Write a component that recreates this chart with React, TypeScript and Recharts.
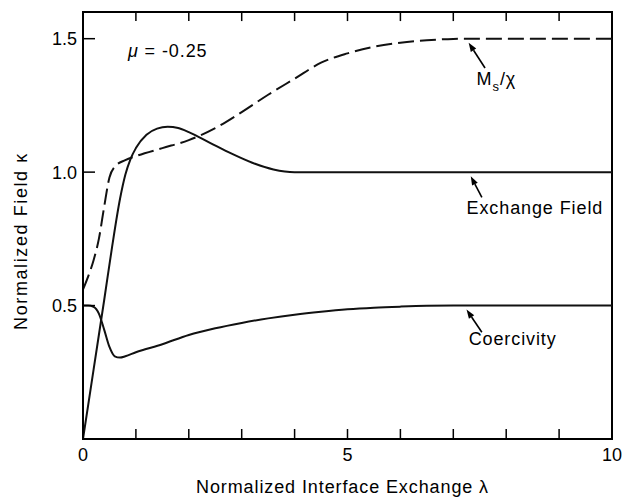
import React from 'react';
import { LineChart, Line, XAxis, YAxis, ReferenceLine, ReferenceDot, ReferenceArea } from 'recharts';

// λ samples and values
const msX = [0, 0.1, 0.2, 0.3, 0.4, 0.5, 0.6, 0.8, 1.0, 1.5, 2.0, 2.5, 3.0, 3.5, 4.0, 4.5, 5.0, 5.5, 6.0, 6.5, 7.0, 7.5, 10];
const msY = [0.56, 0.61, 0.67, 0.75, 0.87, 0.98, 1.02, 1.045, 1.06, 1.09, 1.12, 1.165, 1.225, 1.29, 1.35, 1.41, 1.445, 1.47, 1.485, 1.494, 1.499, 1.5, 1.5];

const exX = [0, 0.2, 0.4, 0.55, 0.7, 0.8, 0.9, 1.0, 1.2, 1.4, 1.6, 1.8, 2.0, 2.4, 2.8, 3.2, 3.6, 4.0, 10];
const exY = [0, 0.26, 0.52, 0.72, 0.9, 0.99, 1.05, 1.09, 1.14, 1.163, 1.17, 1.165, 1.15, 1.11, 1.07, 1.035, 1.01, 1.0, 1.0];

const coX = [0, 0.1, 0.2, 0.3, 0.4, 0.5, 0.6, 0.7, 0.8, 1.0, 1.5, 2.0, 2.5, 3.0, 3.5, 4.0, 4.5, 5.0, 5.5, 6.0, 6.5, 7.0, 10];
const coY = [0.5, 0.5, 0.495, 0.47, 0.41, 0.345, 0.31, 0.305, 0.31, 0.325, 0.355, 0.39, 0.415, 0.435, 0.452, 0.466, 0.477, 0.486, 0.492, 0.496, 0.499, 0.5, 0.5];

const xTicks = [0, 1, 2, 3, 4, 5, 6, 7, 8, 9, 10];
const topTicks = [1, 2, 3, 4, 5, 6, 7, 8, 9];
const xLabelTicks = [0, 5, 10];
const yTicks = [0.5, 1.0, 1.5];
const xDomain = [0, 10];
const yDomain = [0, 1.6];

const xTitle = 'Normalized Interface Exchange λ';
const yTitle = 'Normalized Field κ';

// annotations: [tipX, tipY, tailX, tailY]
const arrows = [
  [7.29, 1.485, 7.6, 1.39],
  [7.33, 0.985, 7.54, 0.905],
  [7.25, 0.485, 7.54, 0.4],
];
const labelPos = {
  ms: [7.44, 1.326],
  ex: [7.25, 0.843],
  co: [7.29, 0.353],
  mu: [0.85, 1.431],
};

const zip = (xs: number[], ys: number[]) => xs.map((x, i) => ({ x, y: ys[i] }));
const msData = zip(msX, msY);
const exData = zip(exX, exY);
const coData = zip(coX, coY);

const FONT = '"Liberation Sans", Arial, Helvetica, sans-serif';

const Arrow = (props: any) => {
  const { x1, y1, x2, y2 } = props;
  const dx = x1 - x2;
  const dy = y1 - y2;
  const len = Math.hypot(dx, dy) || 1;
  const ux = dx / len;
  const uy = dy / len;
  const hl = 9;
  const hw = 3.2;
  const bx = x1 - ux * hl;
  const by = y1 - uy * hl;
  const px = -uy * hw;
  const py = ux * hw;
  return (
    <g>
      <line x1={x2} y1={y2} x2={bx} y2={by} stroke="#000" strokeWidth={1.6} />
      <polygon points={`${x1},${y1} ${bx + px},${by + py} ${bx - px},${by - py}`} fill="#000" />
    </g>
  );
};

// frame drawn from the plot rectangle that ReferenceArea receives
const Frame = (props: any) => {
  const { x, y, width, height } = props;
  return (
    <rect x={x} y={y} width={width} height={height} fill="none" stroke="#000" strokeWidth={2} />
  );
};

// inward tick mark hanging from the top frame line
const TickMark = (props: any) => {
  const { x1, y1, x2, y2 } = props;
  return <line x1={x1} y1={y1} x2={x2} y2={y2} stroke="#000" strokeWidth={1.5} />;
};

const textStyle = { fontFamily: FONT, fontSize: 18, fill: '#000', letterSpacing: 0.9 };

const makeText = (content: React.ReactNode) => (props: any) => (
  <text x={props.cx} y={props.cy} style={textStyle as any}>
    {content}
  </text>
);

export default function App() {
  return (
    <div style={{ position: 'absolute', left: 0, top: 0, background: '#fff' }}>
      <LineChart width={638} height={499} margin={{ top: 12, right: 26, left: 0, bottom: 0 }}>
        <XAxis
          dataKey="x"
          type="number"
          domain={xDomain}
          ticks={xTicks}
          allowDataOverflow
          height={60}
          stroke="#000"
          axisLine={{ stroke: '#000', strokeWidth: 2 }}
          tickLine={{ stroke: '#000', strokeWidth: 1.5 }}
          tickSize={-10}
          tickMargin={19}
          tick={{ fill: '#000', fontSize: 18, fontFamily: FONT }}
          tickFormatter={(v: number) => (xLabelTicks.includes(v) ? String(v) : '')}
          label={{
            content: (p: any) => {
              const vb = p.viewBox || {};
              return (
                <text
                  x={vb.x + vb.width / 2 - 5}
                  y={vb.y + 54}
                  textAnchor="middle"
                  style={textStyle as any}
                >
                  {xTitle}
                </text>
              );
            },
          }}
        />
        <YAxis
          type="number"
          domain={yDomain}
          ticks={yTicks}
          allowDataOverflow
          width={83}
          stroke="#000"
          axisLine={{ stroke: '#000', strokeWidth: 2 }}
          tickLine={{ stroke: '#000', strokeWidth: 1.5 }}
          tickSize={-12}
          tickMargin={18}
          tick={{ fill: '#000', fontSize: 18, fontFamily: FONT }}
          tickFormatter={(v: number) => v.toFixed(1)}
          label={{
            content: (p: any) => {
              const vb = p.viewBox || {};
              return (
                <text
                  transform={`translate(${vb.x + 27}, ${vb.y + 229}) rotate(-90)`}
                  textAnchor="middle"
                  style={{ ...(textStyle as any), letterSpacing: 1.6 }}
                >
                  {yTitle}
                </text>
              );
            },
          }}
        />
        <ReferenceArea
          x1={xDomain[0]}
          x2={xDomain[1]}
          y1={yDomain[0]}
          y2={yDomain[1]}
          shape={Frame}
          ifOverflow="visible"
        />
        {topTicks.map((t) => (
          <ReferenceLine
            key={`tt${t}`}
            segment={[
              { x: t, y: 1.5999 },
              { x: t, y: 1.566 },
            ]}
            shape={TickMark}
            ifOverflow="visible"
          />
        ))}
        <Line
          data={msData}
          dataKey="y"
          type="monotone"
          stroke="#111"
          strokeWidth={2}
          strokeDasharray="16 6"
          dot={false}
          activeDot={false}
          isAnimationActive={false}
        />
        <Line
          data={exData}
          dataKey="y"
          type="monotone"
          stroke="#111"
          strokeWidth={2}
          dot={false}
          activeDot={false}
          isAnimationActive={false}
        />
        <Line
          data={coData}
          dataKey="y"
          type="monotone"
          stroke="#111"
          strokeWidth={2}
          dot={false}
          activeDot={false}
          isAnimationActive={false}
        />
        {arrows.map((a, i) => (
          <ReferenceLine
            key={i}
            segment={[
              { x: a[0], y: a[1] },
              { x: a[2], y: a[3] },
            ]}
            shape={Arrow}
            ifOverflow="visible"
          />
        ))}
        <ReferenceDot
          x={labelPos.ms[0]}
          y={labelPos.ms[1]}
          r={0}
          ifOverflow="visible"
          shape={makeText(
            <>
              M<tspan dy={6} fontSize={13}>s</tspan>
              <tspan dy={-6}>/χ</tspan>
            </>
          )}
        />
        <ReferenceDot
          x={labelPos.ex[0]}
          y={labelPos.ex[1]}
          r={0}
          ifOverflow="visible"
          shape={makeText('Exchange Field')}
        />
        <ReferenceDot
          x={labelPos.co[0]}
          y={labelPos.co[1]}
          r={0}
          ifOverflow="visible"
          shape={makeText('Coercivity')}
        />
        <ReferenceDot
          x={labelPos.mu[0]}
          y={labelPos.mu[1]}
          r={0}
          ifOverflow="visible"
          shape={makeText(
            <>
              <tspan fontStyle="italic">μ</tspan>
              <tspan> = -0.25</tspan>
            </>
          )}
        />
      </LineChart>
    </div>
  );
}
